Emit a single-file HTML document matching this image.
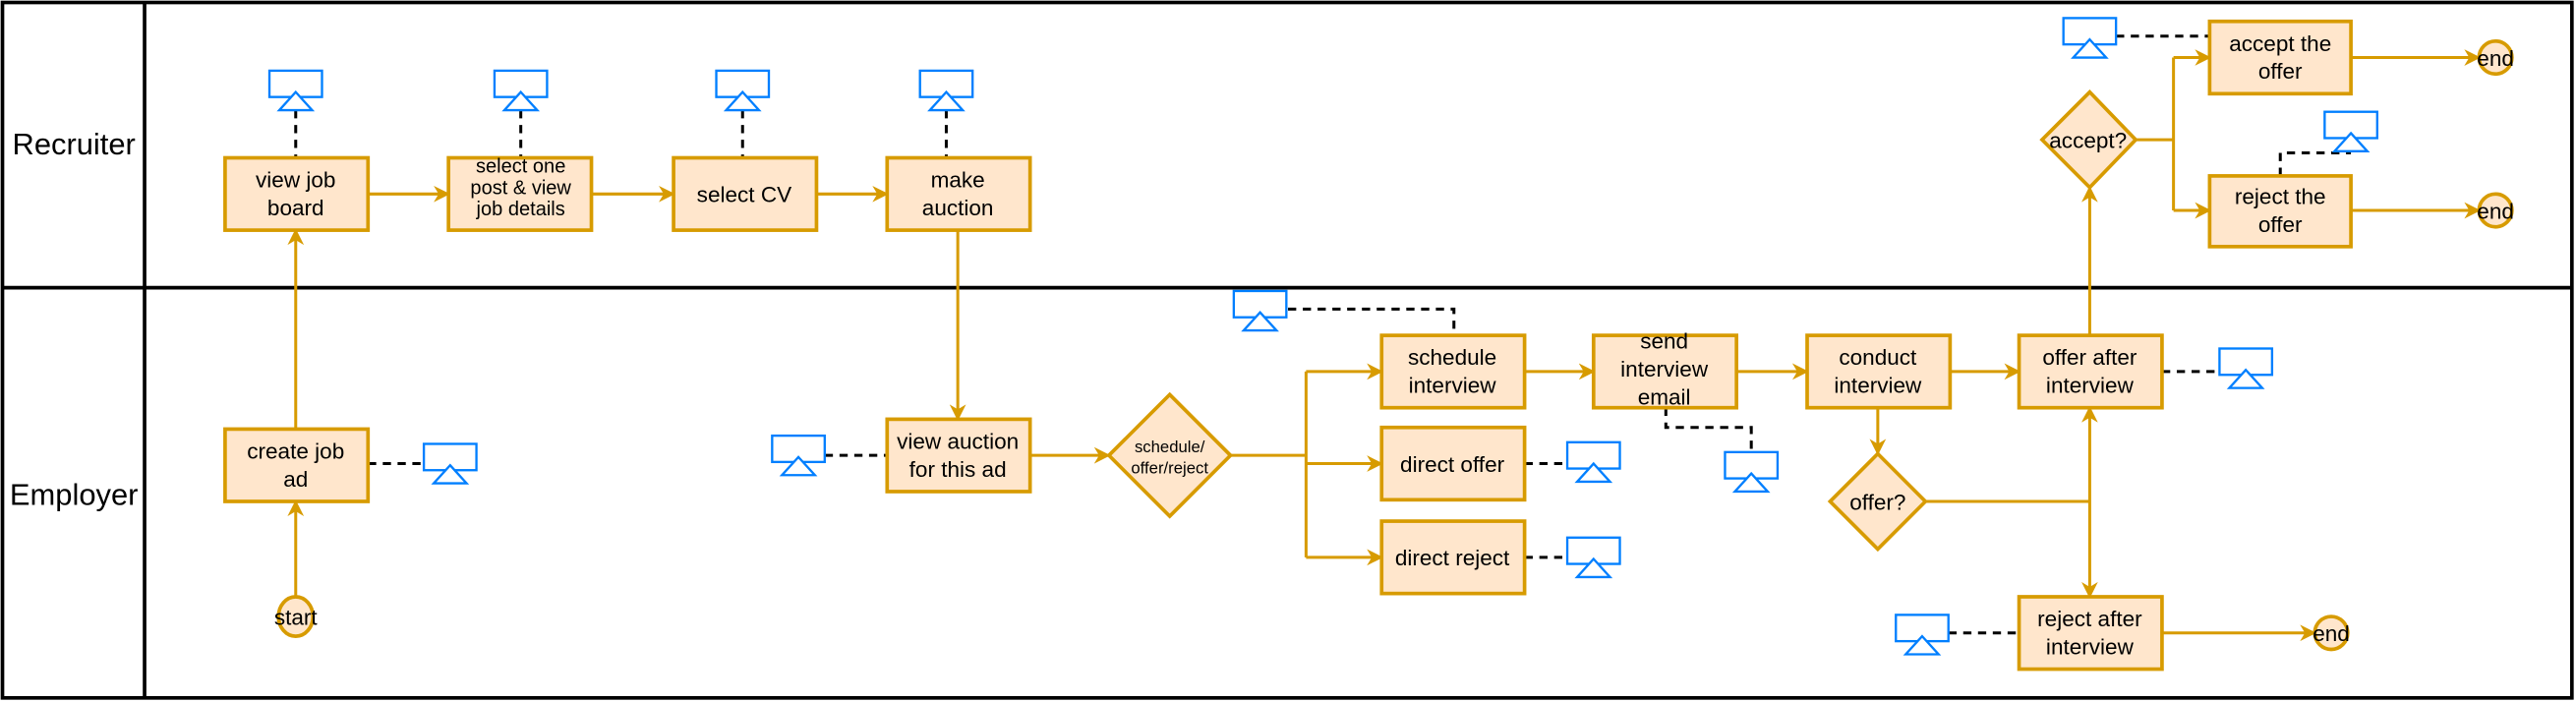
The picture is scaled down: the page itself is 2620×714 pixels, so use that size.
<!DOCTYPE html>
<html><head><meta charset="utf-8"><style>
html,body{margin:0;padding:0;background:#fff;}
svg{display:block;}
text{font-family:"Liberation Sans",sans-serif;fill:#000;}
</style></head><body>
<svg width="2620" height="714" viewBox="0 0 1568 427" preserveAspectRatio="none" xmlns="http://www.w3.org/2000/svg">
<defs>
<marker id="a" markerWidth="12" markerHeight="12" refX="9" refY="6" orient="auto" markerUnits="userSpaceOnUse">
<path d="M0,1 L10,6 L0,11 L3,6 Z" fill="#d79b00"/>
</marker>
<g id="ic">
<rect x="-16" y="0" width="32" height="16" fill="#fff" stroke="#007fff" stroke-width="1.4"/>
<path d="M0,13 L10,24 L-10,24 Z" fill="#fff" stroke="#007fff" stroke-width="1.4"/>
</g>
</defs>
<rect x="1.5" y="1.5" width="1564" height="423" fill="none" stroke="#000" stroke-width="2.2"/>
<line x1="1" y1="175" x2="1566" y2="175" stroke="#000" stroke-width="2.2"/>
<line x1="88" y1="1" x2="88" y2="425" stroke="#000" stroke-width="2.2"/>
<text x="45" y="94" font-size="18.5" text-anchor="middle">Recruiter</text>
<text x="45" y="307" font-size="18.5" text-anchor="middle">Employer</text>

<g stroke="#000" stroke-width="1.8" stroke-dasharray="5,4" fill="none">
<path d="M180,67 V96"/><path d="M317,67 V96"/><path d="M452,67 V96"/><path d="M576,67 V96"/>
<path d="M224,282 H257"/>
<path d="M502,277 H540"/>
<path d="M784,188 H885 V204"/>
<path d="M928,282 H955"/>
<path d="M928,339 H955"/>
<path d="M1014,248 V260 H1066 V275"/>
<path d="M1316,226 H1351"/>
<path d="M1186,385 H1229"/>
<path d="M1288,22 H1345"/>
<path d="M1388,107 V93 H1431"/>
</g>

<g stroke="#d79b00" stroke-width="1.8" fill="none">
<path d="M180,363 V305" marker-end="url(#a)"/>
<path d="M180,261 V140" marker-end="url(#a)"/>
<path d="M224,118 H273" marker-end="url(#a)"/>
<path d="M360,118 H410" marker-end="url(#a)"/>
<path d="M497,118 H540" marker-end="url(#a)"/>
<path d="M583,140 V255" marker-end="url(#a)"/>
<path d="M627,277 H675" marker-end="url(#a)"/>
<path d="M749,277 H795 M795,226 V339"/>
<path d="M795,226 H841" marker-end="url(#a)"/>
<path d="M795,282 H841" marker-end="url(#a)"/>
<path d="M795,339 H841" marker-end="url(#a)"/>
<path d="M928,226 H970" marker-end="url(#a)"/>
<path d="M1057,226 H1100" marker-end="url(#a)"/>
<path d="M1187,226 H1229" marker-end="url(#a)"/>
<path d="M1143,248 V276" marker-end="url(#a)"/>
<path d="M1172,305 H1272"/>
<path d="M1272,305 V248" marker-end="url(#a)"/>
<path d="M1272,305 V363" marker-end="url(#a)"/>
<path d="M1272,204 V114" marker-end="url(#a)"/>
<path d="M1300,85 H1323 M1323,35 V128"/>
<path d="M1323,35 H1345" marker-end="url(#a)"/>
<path d="M1323,128 H1345" marker-end="url(#a)"/>
<path d="M1431,35 H1509" marker-end="url(#a)"/>
<path d="M1431,128 H1509" marker-end="url(#a)"/>
<path d="M1316,385 H1409" marker-end="url(#a)"/>
</g>

<g fill="#ffe6cc" stroke="#d79b00" stroke-width="2.2">
<rect x="137" y="96" width="87" height="44"/>
<rect x="273" y="96" width="87" height="44"/>
<rect x="410" y="96" width="87" height="44"/>
<rect x="540" y="96" width="87" height="44"/>
<rect x="137" y="261" width="87" height="44"/>
<rect x="540" y="255" width="87" height="44"/>
<rect x="841" y="204" width="87" height="44"/>
<rect x="841" y="260" width="87" height="44"/>
<rect x="841" y="317" width="87" height="44"/>
<rect x="970" y="204" width="87" height="44"/>
<rect x="1100" y="204" width="87" height="44"/>
<rect x="1229" y="204" width="87" height="44"/>
<rect x="1229" y="363" width="87" height="44"/>
<rect x="1345" y="13" width="86" height="44"/>
<rect x="1345" y="107" width="86" height="43"/>
<path d="M712,240 L749,277 L712,314 L675,277 Z"/>
<path d="M1143,276 L1172,305 L1143,334 L1114,305 Z"/>
<path d="M1272,56 L1300,85 L1272,114 L1243,85 Z"/>
<ellipse cx="180" cy="375" rx="10.5" ry="12"/>
<ellipse cx="1519" cy="35" rx="10" ry="10"/>
<ellipse cx="1519" cy="128" rx="10" ry="10"/>
<ellipse cx="1419" cy="385" rx="10" ry="10"/>
</g>

<use href="#ic" x="180" y="43"/><use href="#ic" x="317" y="43"/><use href="#ic" x="452" y="43"/><use href="#ic" x="576" y="43"/>
<use href="#ic" x="274" y="270"/><use href="#ic" x="486" y="265"/><use href="#ic" x="767" y="177"/>
<use href="#ic" x="970" y="269"/><use href="#ic" x="970" y="327"/><use href="#ic" x="1066" y="275"/>
<use href="#ic" x="1367" y="212"/><use href="#ic" x="1170" y="374"/><use href="#ic" x="1272" y="11"/><use href="#ic" x="1431" y="68"/>

<g font-size="13.5" text-anchor="middle">
<text x="180" y="114">view job</text><text x="180" y="131">board</text>
<text x="317" y="105" font-size="12">select one</text><text x="317" y="118" font-size="12">post &amp; view</text><text x="317" y="131" font-size="12">job details</text>
<text x="453" y="123">select CV</text>
<text x="583" y="114">make</text><text x="583" y="131">auction</text>
<text x="180" y="279">create job</text><text x="180" y="296">ad</text>
<text x="583" y="273">view auction</text><text x="583" y="290">for this ad</text>
<text x="712" y="275" font-size="10">schedule/</text><text x="712" y="288" font-size="10">offer/reject</text>
<text x="884" y="222">schedule</text><text x="884" y="239">interview</text>
<text x="884" y="287">direct offer</text>
<text x="884" y="344">direct reject</text>
<text x="1013" y="212">send</text><text x="1013" y="229">interview</text><text x="1013" y="246">email</text>
<text x="1143" y="222">conduct</text><text x="1143" y="239">interview</text>
<text x="1272" y="222">offer after</text><text x="1272" y="239">interview</text>
<text x="1143" y="310">offer?</text>
<text x="1272" y="381">reject after</text><text x="1272" y="398">interview</text>
<text x="1388" y="31">accept the</text><text x="1388" y="48">offer</text>
<text x="1388" y="124">reject the</text><text x="1388" y="141">offer</text>
<text x="1271" y="90">accept?</text>
<text x="180" y="380">start</text>
<text x="1519" y="40">end</text><text x="1519" y="133">end</text><text x="1419" y="390">end</text>
</g>
</svg>
</body></html>
